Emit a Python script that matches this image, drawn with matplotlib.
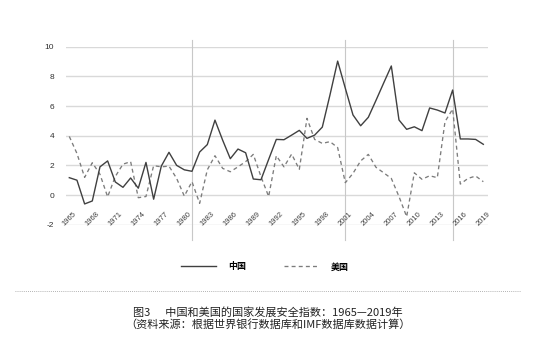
import matplotlib
matplotlib.use("Agg")
import matplotlib.pyplot as plt
import numpy as np

plt.rcParams["font.family"] = ["Liberation Sans", "Noto Sans CJK SC", "DejaVu Sans"]
plt.rcParams["axes.unicode_minus"] = False

# ---------------------------------------------------------------------------
# data
# ---------------------------------------------------------------------------
years = list(range(1965, 2020))

china = [1.17, 1.0, -0.6, -0.4, 1.9, 2.3, 0.88, 0.52, 1.15, 0.46,
         2.2, -0.28, 1.95, 2.88, 2.0, 1.7, 1.6, 2.9, 3.4, 5.05,
         3.7, 2.45, 3.1, 2.85, 1.08, 1.03, 2.4, 3.75, 3.73, 4.04,
         4.36, 3.82, 4.04, 4.58, 6.75, 9.03, 7.2, 5.4, 4.67, 5.24,
         6.38, 7.55, 8.7, 5.06, 4.43, 4.6, 4.34, 5.87, 5.73, 5.53,
         7.08, 3.78, 3.78, 3.75, 3.42]

usa = [3.95, 2.8, 1.19, 2.18, 1.4, -0.12, 1.25, 2.08, 2.25, -0.18,
       -0.1, 1.98, 1.9, 1.95, 1.12, -0.07, 0.9, -0.56, 1.7, 2.65,
       1.8, 1.57, 1.9, 2.25, 2.74, 1.24, -0.1, 2.65, 1.9, 2.76,
       1.73, 5.17, 3.75, 3.48, 3.6, 3.2, 0.83, 1.46, 2.3, 2.74,
       1.87, 1.5, 1.12, -0.1, -1.46, 1.5, 1.06, 1.3, 1.17, 4.94,
       5.8, 0.74, 1.12, 1.28, 0.9]

tick_years = list(range(1965, 2020, 3))
tick_labels = [str(y) for y in tick_years]
y_ticks = [-2, 0, 2, 4, 6, 8, 10]
divider_years = [1981, 2001, 2015]

series_names = ["中国", "美国"]
caption_1 = "图3      中国和美国的国家发展安全指数：1965—2019年"
caption_2 = "（资料来源：根据世界银行数据库和IMF数据库数据计算）"

# ---------------------------------------------------------------------------
# figure
# ---------------------------------------------------------------------------
fig = plt.figure(figsize=(5.43, 3.61), dpi=100)
ax = fig.add_axes([66 / 543, 1 - 224.7 / 361, 422 / 543, 178 / 361])

for v in y_ticks:
    ax.axhline(v, color="#d9d9d9", linewidth=1.0, zorder=1)

for yr in divider_years:
    ax.axvline(yr, ymin=-0.086, ymax=1.038, color="#c8c8c8",
               linewidth=0.8, clip_on=False, zorder=1)

ax.plot(years, china, color="#404040", linewidth=1.0, zorder=3,
        label=series_names[0])
ax.plot(years, usa, color="#7c7c7c", linewidth=0.95, zorder=2,
        linestyle=(0, (3.0, 2.4)), label=series_names[1])

ax.set_xlim(1964.57, 2019.61)
ax.set_ylim(-2, 10)

ax.set_yticks(y_ticks)
ax.set_yticklabels([str(v) for v in y_ticks], fontsize=6, color="#303030")
ax.set_xticks(tick_years)
ax.set_xticklabels(tick_labels, fontsize=5.5, color="#404040", rotation=45,
                   ha="center", va="center", rotation_mode="anchor")
ax.tick_params(axis="x", length=0, pad=-4.1)
ax.tick_params(axis="y", length=0, pad=8.6)
for s in ax.spines.values():
    s.set_visible(False)

# legend under the chart
fig.legend(loc="center", bbox_to_anchor=(265 / 543, 1 - 267 / 361), ncol=2,
           frameon=False, handlelength=3.9, handletextpad=1.3,
           columnspacing=4.2,
           prop={"family": ["Noto Sans CJK SC"], "size": 6.5, "weight": "bold"})

# dotted separator line
fig.add_artist(plt.Line2D([15 / 543, 520 / 543], [1 - 290.7 / 361] * 2,
                          color="#9a9a9a", linewidth=0.6,
                          linestyle=(0, (1, 1.5))))

# caption
fig.text(268 / 543, 1 - 312 / 361, caption_1, ha="center", va="center",
         fontsize=8, color="#222222", family=["Noto Sans CJK SC", "DejaVu Sans"])
fig.text(268 / 543, 1 - 325 / 361, caption_2, ha="center", va="center",
         fontsize=8, color="#222222", family=["Noto Sans CJK SC", "DejaVu Sans"])

fig.savefig("out.png", dpi=100, facecolor="white")
